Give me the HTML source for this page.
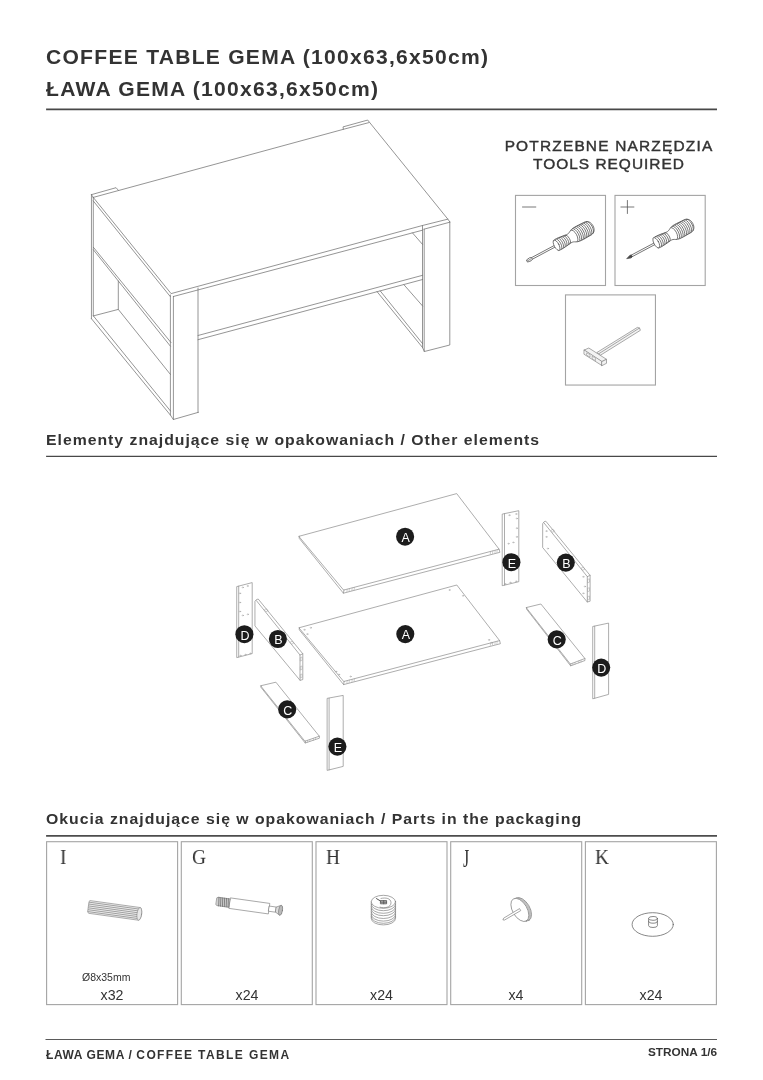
<!DOCTYPE html>
<html lang="pl">
<head>
<meta charset="utf-8">
<title>ŁAWA GEMA / COFFEE TABLE GEMA</title>
<style>
html,body{margin:0;padding:0;background:#fff;}
body{width:763px;height:1080px;position:relative;overflow:hidden;font-family:"Liberation Sans",sans-serif;color:#333;}
.t{position:absolute;white-space:nowrap;line-height:1;will-change:transform;}
.h1{font-weight:bold;font-size:19.7px;letter-spacing:1.18px;left:46px;transform:scaleX(1.07);transform-origin:0 0;}
.h2{font-weight:bold;font-size:15.2px;letter-spacing:.95px;left:46px;transform:scaleX(1.04);transform-origin:0 0;}
.rule{position:absolute;left:46px;width:671px;height:1.4px;background:#444;}
.tools{font-size:14.3px;letter-spacing:1.1px;text-align:center;width:240px;left:489px;transform:scaleX(1.08);transform-origin:50% 0;-webkit-text-stroke:.4px #333;}
.box{position:absolute;border:1px solid #8a8a8a;box-sizing:border-box;}
.lt{font-family:"Liberation Serif",serif;font-size:21px;transform:scaleX(.92);transform-origin:0 0;color:#333;}
.q{font-size:14.2px;text-align:center;color:#333;}
.foot{font-weight:bold;font-size:12px;}
svg{position:absolute;left:0;top:0;}
</style>
</head>
<body>
<div class="t h1" style="top:48.3px">COFFEE TABLE GEMA (100x63,6x50cm)</div>
<div class="t h1" style="top:80.3px">ŁAWA GEMA (100x63,6x50cm)</div>

<div class="t tools" style="top:139px">POTRZEBNE NARZĘDZIA</div>
<div class="t tools" style="top:157px;letter-spacing:.93px">TOOLS REQUIRED</div>

<div class="t h2" style="top:432px">Elementy znajdujące się w opakowaniach / Other elements</div>

<div class="t h2" style="top:811px">Okucia znajdujące się w opakowaniach / Parts in the packaging</div>


<div class="t lt" style="left:59.6px;top:847px">I</div>
<div class="t lt" style="left:191.6px;top:847px">G</div>
<div class="t lt" style="left:325.6px;top:847px">H</div>
<div class="t lt" style="left:463px;top:845.6px;font-size:25.5px;transform:scaleX(.62)">J</div>
<div class="t lt" style="left:595px;top:847px">K</div>

<div class="t" style="left:82px;top:972px;font-size:10.5px">Ø8x35mm</div>
<div class="t q" style="left:46px;width:132px;top:988.4px">x32</div>
<div class="t q" style="left:181px;width:132px;top:988.4px">x24</div>
<div class="t q" style="left:316px;width:131px;top:988.4px">x24</div>
<div class="t q" style="left:450px;width:132px;top:988.4px">x4</div>
<div class="t q" style="left:585px;width:132px;top:988.4px">x24</div>

<div class="t foot" style="left:46px;top:1049px"><span style="letter-spacing:.6px">ŁAWA GEMA / </span><span style="letter-spacing:1.4px">COFFEE TABLE GEMA</span></div>
<div class="t foot" style="right:46px;top:1047px;font-size:11.8px;transform-origin:100% 0">STRONA 1/6</div>

<svg id="art" width="763" height="1080" viewBox="0 0 763 1080" fill="none" stroke="#555" stroke-width="0.8" stroke-linecap="round" stroke-linejoin="round">
<g id="frames" stroke-linecap="butt" stroke-linejoin="miter">
<path d="M46.1 109.35 H717" stroke="#484848" stroke-width="1.6"/>
<path d="M46.1 456.4 H717" stroke="#484848" stroke-width="1.4"/>
<path d="M46.1 835.95 H717" stroke="#4c4c4c" stroke-width="1.7"/>
<path d="M45.5 1039.5 H717" stroke="#5a5a5a" stroke-width="1.05"/>
<g stroke="#a4a4a4" stroke-width="1.1">
<rect x="515.5" y="195.4" width="90" height="90.1"/>
<rect x="615" y="195.4" width="90.2" height="90.1"/>
<rect x="565.5" y="294.9" width="89.95" height="90.15"/>
<rect x="46.60" y="841.7" width="131" height="162.9"/>
<rect x="181.30" y="841.7" width="131" height="162.9"/>
<rect x="316.00" y="841.7" width="131" height="162.9"/>
<rect x="450.70" y="841.7" width="131" height="162.9"/>
<rect x="585.40" y="841.7" width="131" height="162.9"/>
</g>
</g>
<g id="table" stroke="#727272" stroke-width="0.75">
<!-- tabletop -->
<path d="M93.25 197.4 L343.4 129.3 L368.9 122.6"/>
<path d="M91.45 194.65 L116.05 187.7 L118.4 190.3"/>
<path d="M91.45 194.65 L93.25 197.4"/>
<path d="M343.4 129.3 L343 126.9 L367.7 120.06 L447.85 219.15 L449.8 221.9"/>
<path d="M93.25 197.4 L171.1 293.6 L422.45 225.5 L447.85 219.15"/>
<path d="M93.25 200.9 L170.3 296.6"/>
<path d="M173.4 296.5 L422.45 230.2"/>
<path d="M423.9 229.2 L449.8 222.2"/>
<!-- left back leg -->
<path d="M91.45 194.65 V318.7"/>
<path d="M93.3 197.4 V315.9"/>
<!-- apron left -->
<path d="M93.4 247.3 L171 342.6"/>
<path d="M93.4 249.8 L170.4 346.2"/>
<!-- bottom rail left -->
<path d="M91.45 318.7 L170.4 415.1 L173.3 419.5 L198.4 412.3"/>
<path d="M93.4 315.9 L170.4 410.9"/>
<path d="M93.4 315.9 L118.3 309.4 L170.4 374.4"/>
<path d="M118.3 281 V309.4"/>
<!-- front left leg -->
<path d="M170.4 295 V415.1"/>
<path d="M173.4 296.5 V419.5"/>
<path d="M198 288 V412.4"/>
<!-- shelf -->
<path d="M198 335.5 L422.6 275.3"/>
<path d="M198 339.7 L422.6 279.5"/>
<!-- right leg -->
<path d="M422.5 225.5 V347.6 L424.4 351.5 L449.8 345 V221.9"/>
<path d="M424.2 229.2 V351.5"/>
<!-- right rail -->
<path d="M377 291.6 L422.6 347.6"/>
<path d="M380.3 291 L422.6 343.7"/>
<path d="M403.9 284.7 L422.6 306"/>
<path d="M412.5 232.9 L422.5 244.4"/>
</g>
<g id="parts" stroke="#8a8a8a" stroke-width="0.7">
<!-- A top -->
<path d="M299.2 536.25 L456.7 493.6 L499.1 549.2 L344 590 Z"/>
<path d="M299.2 536.25 V538.3 L343.4 593.2 L499.9 552.3 L499.1 549.2 M344 590 L343.4 593.2"/>
<!-- A bottom -->
<path d="M299.3 627.7 L456.8 585 L499.6 640.6 L344.1 681.4 Z"/>
<path d="M299.3 627.7 V629.8 L343.6 684.6 L500.4 643.7 L499.6 640.6 M344.1 681.4 L343.6 684.6"/>
<!-- D left -->
<path d="M237.1 586.5 L252.2 582.6 V653.6 L237.1 657.5 Z M238.7 586.2 V657"/>
<!-- B left -->
<path d="M255.2 601 L256.4 599.6 L258.2 599 L302.8 653.8 V679.6 L300 680.3 L255.2 626.2 Z"/>
<path d="M256.4 600.6 L300 655 V680.3 M300 655 L302.8 653.8"/>
<!-- C left -->
<path d="M261 685.7 L275.9 682.2 L319.3 736.2 L305.3 741.1 Z"/>
<path d="M261 685.7 V687.4 L305.2 743 L319.4 738.2 L319.3 736.2 M305.3 741.1 V743"/>
<!-- E bottom -->
<path d="M327.5 698.3 L343.2 695.4 V766.4 L327.5 770.3 Z M329.1 698.3 V769.8"/>
<!-- E right -->
<path d="M502.6 514 L518.8 510.7 V581.7 L502.6 585.6 Z M504.5 513.8 V585"/>
<!-- B right -->
<path d="M542.9 523.4 L544 521.8 L545.8 521.2 L590.1 575.4 V601.2 L587.3 602 L542.9 547.8 Z"/>
<path d="M544 522.9 L587.3 576.6 V602 M587.3 576.6 L590.1 575.4"/>
<!-- C right -->
<path d="M526.6 607.5 L540.9 604 L584.9 658.5 L570.7 663.9 Z"/>
<path d="M526.6 607.5 V609.2 L570.6 665.8 L585 660.5 L584.9 658.5 M570.7 663.9 V665.8"/>
<!-- D right -->
<path d="M593.1 626.4 L608.6 623.1 V694.4 L593.1 698.7 Z M594.7 626.2 V698.2"/>
</g>
<g id="holes" stroke="#a0a0a0" stroke-width="0.5" fill="none">
<ellipse cx="242.8" cy="587.4" rx="0.7" ry="0.5"/>
<ellipse cx="247.6" cy="586.0" rx="0.7" ry="0.5"/>
<ellipse cx="240.0" cy="593.3" rx="0.7" ry="0.5"/>
<ellipse cx="240.0" cy="602.5" rx="0.7" ry="0.5"/>
<ellipse cx="240.0" cy="611.5" rx="0.7" ry="0.5"/>
<ellipse cx="242.8" cy="615.4" rx="0.7" ry="0.5"/>
<ellipse cx="247.8" cy="614.3" rx="0.7" ry="0.5"/>
<ellipse cx="240.5" cy="655.7" rx="0.7" ry="0.5"/>
<ellipse cx="245.5" cy="654.7" rx="0.7" ry="0.5"/>
<ellipse cx="250.4" cy="653.4" rx="0.7" ry="0.5"/>
<ellipse cx="509.4" cy="515.2" rx="0.7" ry="0.5"/>
<ellipse cx="516.2" cy="514.0" rx="0.7" ry="0.5"/>
<ellipse cx="516.8" cy="518.5" rx="0.7" ry="0.5"/>
<ellipse cx="516.8" cy="528.2" rx="0.7" ry="0.5"/>
<ellipse cx="516.8" cy="536.9" rx="0.7" ry="0.5"/>
<ellipse cx="508.5" cy="543.7" rx="0.7" ry="0.5"/>
<ellipse cx="513.3" cy="542.4" rx="0.7" ry="0.5"/>
<ellipse cx="505.2" cy="584.0" rx="0.7" ry="0.5"/>
<ellipse cx="510.4" cy="582.6" rx="0.7" ry="0.5"/>
<ellipse cx="516.2" cy="581.3" rx="0.7" ry="0.5"/>
<ellipse cx="310.8" cy="627.8" rx="0.7" ry="0.5"/>
<ellipse cx="304.4" cy="629.8" rx="0.7" ry="0.5"/>
<ellipse cx="307.3" cy="634.1" rx="0.7" ry="0.5"/>
<ellipse cx="449.5" cy="590.0" rx="0.7" ry="0.5"/>
<ellipse cx="463.0" cy="595.8" rx="0.7" ry="0.5"/>
<ellipse cx="489.0" cy="639.9" rx="0.7" ry="0.5"/>
<ellipse cx="491.8" cy="642.8" rx="0.7" ry="0.5"/>
<ellipse cx="350.6" cy="676.5" rx="0.7" ry="0.5"/>
<ellipse cx="336.1" cy="671.6" rx="0.7" ry="0.5"/>
<ellipse cx="339.0" cy="674.5" rx="0.7" ry="0.5"/>
<ellipse cx="546.4" cy="531.1" rx="0.7" ry="0.5"/>
<ellipse cx="546.4" cy="536.9" rx="0.7" ry="0.5"/>
<ellipse cx="547.9" cy="548.6" rx="0.7" ry="0.5"/>
<ellipse cx="583.3" cy="576.8" rx="0.7" ry="0.5"/>
<ellipse cx="584.9" cy="586.5" rx="0.7" ry="0.5"/>
<ellipse cx="583.3" cy="593.3" rx="0.7" ry="0.5"/>
<path d="M347.2 589.3 l-0.3 2.6 M349.4 588.7 l-0.3 2.6 M352.2 588.0 l-0.3 2.6 M354.4 587.4 l-0.3 2.6 M490.6 551.5 l-0.3 2.6 M492.8 550.9 l-0.3 2.6 M495.2 550.3 l-0.3 2.6 M497.2 549.8 l-0.3 2.6 M347.2 680.7 l-0.3 2.6 M349.4 680.1 l-0.3 2.6 M352.2 679.4 l-0.3 2.6 M354.4 678.8 l-0.3 2.6 M490.6 642.9 l-0.3 2.6 M492.8 642.3 l-0.3 2.6 M495.2 641.7 l-0.3 2.6 M497.2 641.2 l-0.3 2.6 M307.6 740.4 l0 1.9 M309.8 739.7 l0 1.9 M313.4 738.5 l0 1.9 M315.6 737.7 l0 1.9 M572.8 663.2 l0 1.9 M575.0 662.4 l0 1.9 M578.8 661.0 l0 1.9 M581.0 660.2 l0 1.9 "/>
<path d="M264.6 609.6 l1.9 -0.9 l1.6 2 l-1.9 0.9 Z M290.3 642.1 l1.9 -0.9 l1.6 2 l-1.9 0.9 Z M551.2 530.1 l1.9 -0.9 l1.6 2 l-1.9 0.9 Z M581.4 568.1 l1.9 -0.9 l1.6 2 l-1.9 0.9 Z M300.6 657.5 l1.5 -0.5 v3.4 l-1.5 0.5 Z M300.6 666.5 l1.5 -0.5 v3.4 l-1.5 0.5 Z M300.6 674.5 l1.5 -0.5 v3.4 l-1.5 0.5 Z M588 579.3 l1.5 -0.5 v3.4 l-1.5 0.5 Z M588 588.2 l1.5 -0.5 v3.4 l-1.5 0.5 Z M588 596.5 l1.5 -0.5 v3.4 l-1.5 0.5 Z "/>
</g>
<g id="labels" stroke="none" fill="#1c1c1c">
<circle cx="405.1" cy="536.7" r="9.05"/><circle cx="405.3" cy="634.1" r="9.05"/>
<circle cx="244.4" cy="634.2" r="9.05"/><circle cx="277.9" cy="639" r="9.05"/>
<circle cx="287.2" cy="709.4" r="9.05"/><circle cx="337.4" cy="746.6" r="9.05"/>
<circle cx="511.4" cy="562.2" r="9.05"/><circle cx="565.8" cy="562.6" r="9.05"/>
<circle cx="556.7" cy="639.4" r="9.05"/><circle cx="601.2" cy="667.6" r="9.05"/>
</g>
<g id="labeltext" transform="translate(0.6 0.8)" stroke="none" fill="#fff" font-family="'Liberation Sans',sans-serif" font-size="12.5" text-anchor="middle">
<text x="405.1" y="541.3">A</text><text x="405.3" y="638.7">A</text>
<text x="244.4" y="638.8">D</text><text x="277.9" y="643.6">B</text>
<text x="287.2" y="714">C</text><text x="337.4" y="751.2">E</text>
<text x="511.4" y="566.8">E</text><text x="565.8" y="567.2">B</text>
<text x="556.7" y="644">C</text><text x="601.2" y="672.2">D</text>
</g>
<g id="tools">
<path d="M522.5 207 H535.8" stroke="#555" stroke-width="0.8"/>
<path d="M620.9 207 H633.9 M627.4 200.5 V213.5" stroke="#555" stroke-width="0.8"/>
<g transform="translate(527.3 260.9) rotate(-28.1)" stroke="#505050" stroke-width="0.7" fill="#fff">
<path d="M4 -0.9 H33 V0.9 H4 Z"/>
<path d="M0 -1.2 L3.4 -1.7 L5.2 -0.9 V0.9 L3.4 1.7 L0 1.2 Z"/>
<path d="M0.3 0 H3.6" stroke-width="0.6"/>
<path d="M33 -5.7 C35 -6 37 -5.9 40 -5.6 L47 -4.7 C49 -4.5 50 -5 52 -6.2 C54 -7.2 56 -7.5 60 -7.5 L69 -7.2 C72.5 -6.8 74.5 -4 74.5 0 C74.5 4 72.5 6.8 69 7.2 L60 7.5 C56 7.5 54 7.2 52 6.2 C50 5 49 4.5 47 4.7 L40 5.6 C37 5.9 35 6 33 5.7 Z"/>
<ellipse cx="33.2" cy="0" rx="2.4" ry="5.7"/>
<path d="M35.4 -5.90 A2.3 5.90 0 0 1 35.4 5.90" fill="none"/>
<path d="M37.4 -5.83 A2.3 5.83 0 0 1 37.4 5.83" fill="none"/>
<path d="M39.4 -5.65 A2.3 5.65 0 0 1 39.4 5.65" fill="none"/>
<path d="M41.4 -5.42 A2.3 5.42 0 0 1 41.4 5.42" fill="none"/>
<path d="M43.4 -5.16 A2.3 5.16 0 0 1 43.4 5.16" fill="none"/>
<path d="M45.4 -4.91 A2.3 4.91 0 0 1 45.4 4.91" fill="none"/>
<path d="M53.0 -6.60 A2.8 6.60 0 0 1 53.0 6.60" fill="none"/>
<path d="M55.0 -7.19 A2.8 7.19 0 0 1 55.0 7.19" fill="none"/>
<path d="M56.9 -7.42 A2.8 7.42 0 0 1 56.9 7.42" fill="none"/>
<path d="M58.9 -7.47 A2.8 7.47 0 0 1 58.9 7.47" fill="none"/>
<path d="M60.8 -7.47 A2.8 7.47 0 0 1 60.8 7.47" fill="none"/>
<path d="M62.8 -7.41 A2.8 7.41 0 0 1 62.8 7.41" fill="none"/>
<path d="M64.7 -7.34 A2.8 7.34 0 0 1 64.7 7.34" fill="none"/>
<path d="M66.7 -7.28 A2.8 7.28 0 0 1 66.7 7.28" fill="none"/>
<path d="M68.6 -7.21 A2.8 7.21 0 0 1 68.6 7.21" fill="none"/>
<path d="M70.6 -6.81 A2.8 6.81 0 0 1 70.6 6.81" fill="none"/>
</g>
<g transform="translate(627 258.4) rotate(-28)" stroke="#505050" stroke-width="0.7" fill="#fff">
<path d="M4.5 -0.9 H33 V0.9 H4.5 Z"/>
<path d="M0 0 L4.2 -1.4 L5.5 -0.9 V0.9 L4.2 1.4 Z" fill="#444"/>
<path d="M33 -5.7 C35 -6 37 -5.9 40 -5.6 L47 -4.7 C49 -4.5 50 -5 52 -6.2 C54 -7.2 56 -7.5 60 -7.5 L69 -7.2 C72.5 -6.8 74.5 -4 74.5 0 C74.5 4 72.5 6.8 69 7.2 L60 7.5 C56 7.5 54 7.2 52 6.2 C50 5 49 4.5 47 4.7 L40 5.6 C37 5.9 35 6 33 5.7 Z"/>
<ellipse cx="33.2" cy="0" rx="2.4" ry="5.7"/>
<path d="M35.4 -5.90 A2.3 5.90 0 0 1 35.4 5.90" fill="none"/>
<path d="M37.4 -5.83 A2.3 5.83 0 0 1 37.4 5.83" fill="none"/>
<path d="M39.4 -5.65 A2.3 5.65 0 0 1 39.4 5.65" fill="none"/>
<path d="M41.4 -5.42 A2.3 5.42 0 0 1 41.4 5.42" fill="none"/>
<path d="M43.4 -5.16 A2.3 5.16 0 0 1 43.4 5.16" fill="none"/>
<path d="M45.4 -4.91 A2.3 4.91 0 0 1 45.4 4.91" fill="none"/>
<path d="M53.0 -6.60 A2.8 6.60 0 0 1 53.0 6.60" fill="none"/>
<path d="M55.0 -7.19 A2.8 7.19 0 0 1 55.0 7.19" fill="none"/>
<path d="M56.9 -7.42 A2.8 7.42 0 0 1 56.9 7.42" fill="none"/>
<path d="M58.9 -7.47 A2.8 7.47 0 0 1 58.9 7.47" fill="none"/>
<path d="M60.8 -7.47 A2.8 7.47 0 0 1 60.8 7.47" fill="none"/>
<path d="M62.8 -7.41 A2.8 7.41 0 0 1 62.8 7.41" fill="none"/>
<path d="M64.7 -7.34 A2.8 7.34 0 0 1 64.7 7.34" fill="none"/>
<path d="M66.7 -7.28 A2.8 7.28 0 0 1 66.7 7.28" fill="none"/>
<path d="M68.6 -7.21 A2.8 7.21 0 0 1 68.6 7.21" fill="none"/>
<path d="M70.6 -6.81 A2.8 6.81 0 0 1 70.6 6.81" fill="none"/>
</g>
<g stroke="#7c7c7c" stroke-width="0.65" fill="#f3f3f3">
<path d="M597.1 352.4 L637.4 327.4 L639.5 328 L640.4 330.3 L601 354.9 Z"/>
<path d="M599 353.6 L639.5 328" fill="none"/>
<path d="M584.3 350 L588.8 348 L606.5 359.3 L602 361.5 Z"/>
<path d="M584.3 350 L602 361.5 V365.6 L584.3 354.4 Z"/>
<path d="M602 361.5 L606.5 359.3 V363.3 L602 365.6 Z"/>
<path d="M587 353 l3 1.9 v2.2 l-3 -1.9 Z M592.5 356.5 l3 1.9 v2.2 l-3 -1.9 Z" fill="#fff" stroke-width="0.5"/>
</g>
</g>
<g id="hw" stroke="#7a7a7a" stroke-width="0.6" fill="none">
<g transform="translate(88.3 906.8) rotate(7.9)">
<path d="M1.2 -6.4 H51.5 A2.3 6.4 0 0 1 51.5 6.4 H1.2 L0 5 V-5 Z" fill="#ededed" stroke="#808080"/>
<path d="M0.5 -4.7 H50" stroke="#8c8c8c" stroke-width="0.75"/>
<path d="M0.5 -2.8 H50" stroke="#8c8c8c" stroke-width="0.75"/>
<path d="M0.5 -0.9 H50" stroke="#8c8c8c" stroke-width="0.75"/>
<path d="M0.5 1.0 H50" stroke="#8c8c8c" stroke-width="0.75"/>
<path d="M0.5 2.9 H50" stroke="#8c8c8c" stroke-width="0.75"/>
<path d="M0.5 4.8 H50" stroke="#8c8c8c" stroke-width="0.75"/>
<ellipse cx="51.5" cy="0" rx="2.3" ry="6.4" fill="#e8e8e8" stroke="#858585"/>
</g>
<g transform="translate(216.6 901.3) rotate(8)" stroke="#777">
<path d="M0 -3.6 L1 -4.2 H13.5 V4.2 H1 L0 3.6 Z" fill="#cfcfcf"/>
<path d="M1.8 -4.3 L2.7 4.3" stroke="#666" stroke-width="0.7"/>
<path d="M3.7 -4.3 L4.6000000000000005 4.3" stroke="#666" stroke-width="0.7"/>
<path d="M5.6 -4.3 L6.5 4.3" stroke="#666" stroke-width="0.7"/>
<path d="M7.5 -4.3 L8.4 4.3" stroke="#666" stroke-width="0.7"/>
<path d="M9.4 -4.3 L10.3 4.3" stroke="#666" stroke-width="0.7"/>
<path d="M11.3 -4.3 L12.200000000000001 4.3" stroke="#666" stroke-width="0.7"/>
<path d="M13.5 -5.3 H53 V5.3 H13.5 Z" fill="#fff"/>
<path d="M53 -2.6 H60 V2.6 H53 Z" fill="#fff"/>
<path d="M60 -2.6 L64.3 -5 A1.8 5 0 0 1 64.3 5 L60 2.6 Z" fill="#ddd"/>
<ellipse cx="64.6" cy="0" rx="1.9" ry="5" fill="#bbb"/>
</g>
<g stroke="#777" stroke-width="0.65">
<path d="M371.25 901.8 V918.4 A12.15 6.5 0 0 0 395.54999999999995 918.4 V901.8 Z" fill="#fff"/>
<path d="M371.25 904.2 A12.15 6.5 0 0 0 395.54999999999995 904.2"/>
<path d="M371.25 906.8 A12.15 6.5 0 0 0 395.54999999999995 906.8"/>
<path d="M371.25 909.2 A12.15 6.5 0 0 0 395.54999999999995 909.2"/>
<path d="M371.25 912.0 A12.15 6.5 0 0 0 395.54999999999995 912.0"/>
<path d="M371.25 914.6 A12.15 6.5 0 0 0 395.54999999999995 914.6"/>
<path d="M371.25 916.8 A12.15 6.5 0 0 0 395.54999999999995 916.8"/>
<ellipse cx="383.4" cy="901.8" rx="12.15" ry="6.5" fill="#fff"/>
<path d="M380.1 907.2 C384 908.6 391.2 907.6 391 902.6 C390.8 898.4 386 897.3 381 898.4"/>
<path d="M376.5 898.6 L380.8 901.2" stroke="#555" stroke-width="1"/>
<path d="M380.8 900.6 H386.6 V903.8 H380.8 Z M383.7 900.6 V903.8 M380.8 902.2 H386.6" stroke="#555" stroke-width="0.8" fill="#bbb"/>
</g>
<g stroke="#777" stroke-width="0.65">
<ellipse cx="522.60" cy="909.25" rx="12.85" ry="7.2" transform="rotate(59.3 522.60 909.25)" fill="#e6e6e6"/>
<ellipse cx="521.70" cy="909.48" rx="12.85" ry="7.2" transform="rotate(59.3 521.70 909.48)" stroke="#999" stroke-width="0.5"/>
<ellipse cx="520.80" cy="909.72" rx="12.85" ry="7.2" transform="rotate(59.3 520.80 909.72)" stroke="#999" stroke-width="0.5"/>
<ellipse cx="519.9" cy="909.95" rx="12.85" ry="7.2" transform="rotate(59.3 519.9 909.95)" fill="#fff"/>
<path d="M519.2 908.8 L503.6 918.2 L502.9 919.9 L504.6 920 L520.4 910.8 Z" fill="#fff"/>
</g>
<g stroke="#6a6a6a" stroke-width="0.8">
<ellipse cx="652.7" cy="924.5" rx="20.6" ry="11.8" fill="#fff"/>
<path d="M648.6 918.4 V925.6 A4.4 1.9 0 0 0 657.4 925.6 V918.4" fill="#fff"/>
<path d="M648.6 921.3 A4.4 1.9 0 0 0 657.4 921.3"/>
<ellipse cx="653" cy="918.4" rx="4.4" ry="1.9" fill="#fff"/>
</g>
</g>
</svg>
</body>
</html>
